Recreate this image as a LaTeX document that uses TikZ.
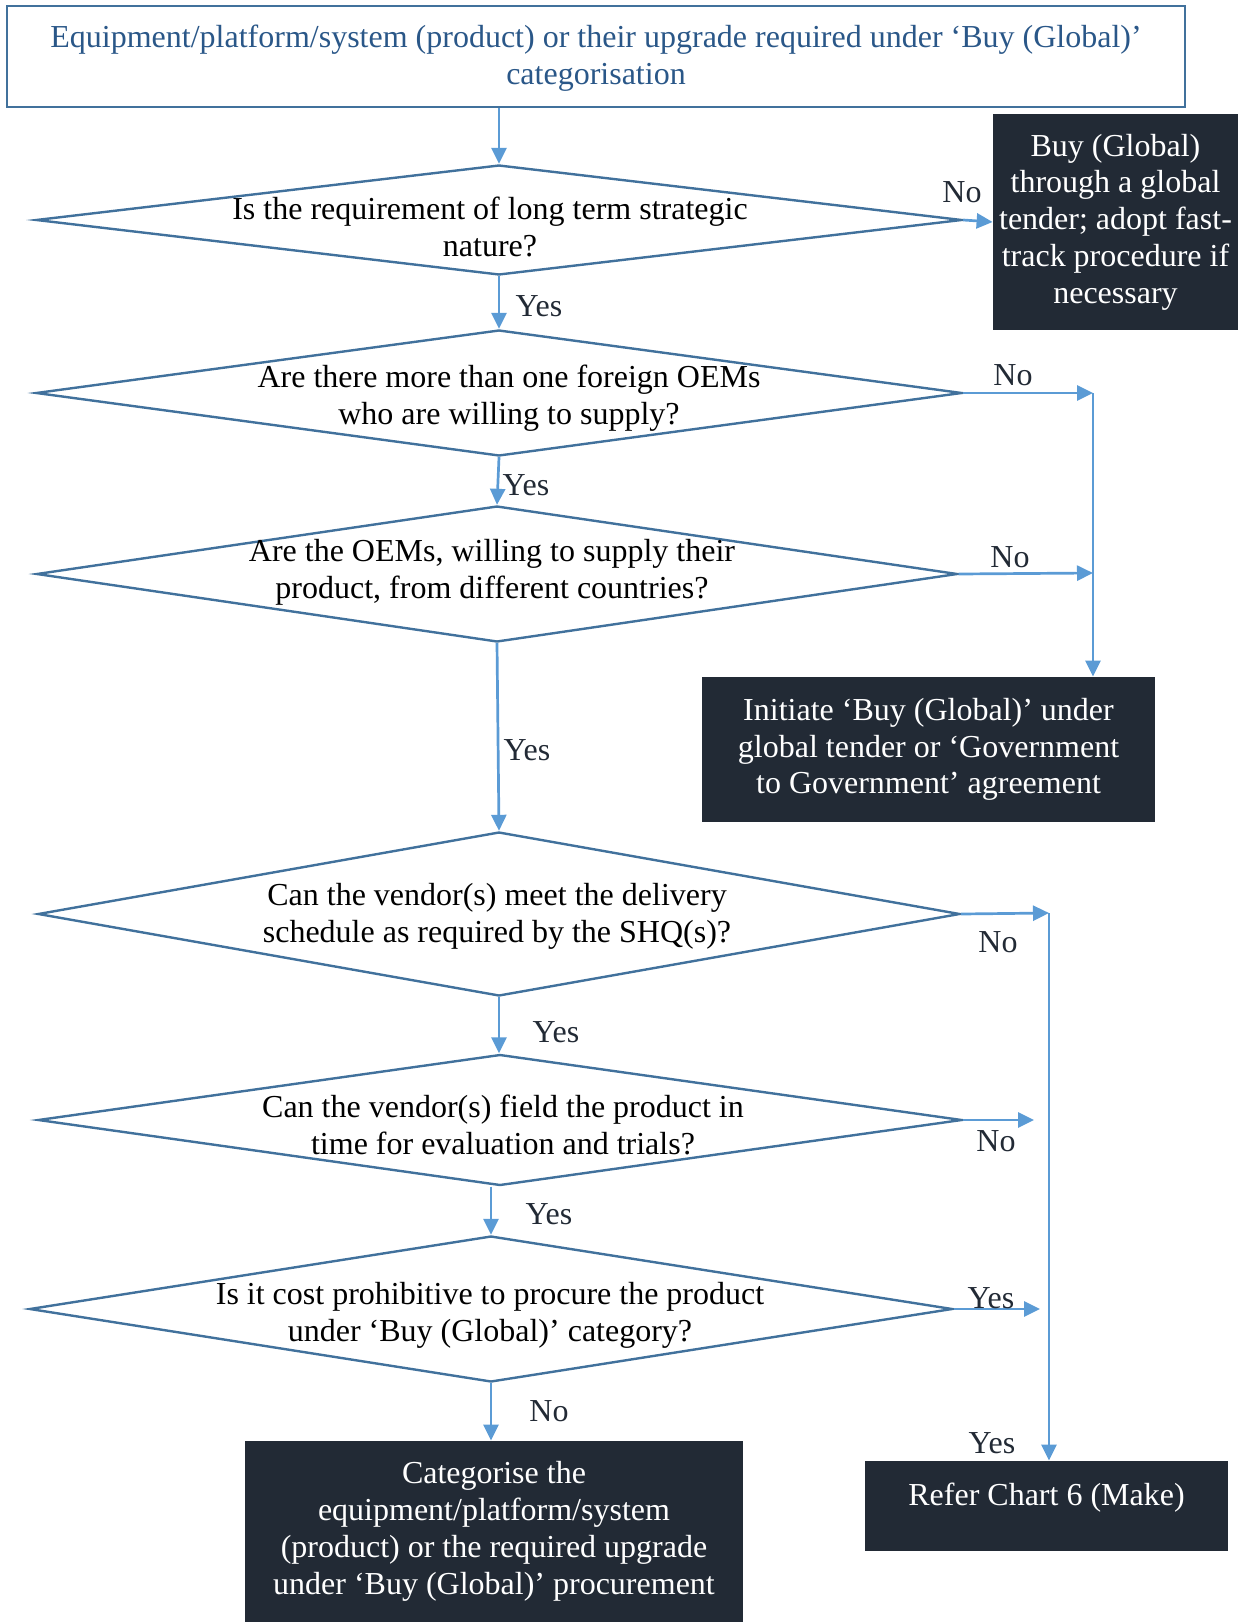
\documentclass[tikz,border=0pt]{standalone}
\usepackage{fontspec}
\setmainfont{Liberation Serif}
\usetikzlibrary{shapes.geometric,arrows.meta}
\definecolor{lineblue}{HTML}{41719C}
\definecolor{textblue}{HTML}{2A5788}
\definecolor{arrowblue}{HTML}{5B9BD5}
\definecolor{darkbox}{HTML}{222A35}

\begin{document}
\begin{tikzpicture}[x=0.5pt,y=-0.5pt,font=\fontsize{16}{18.4}\selectfont,
  decision/.style={diamond,draw=lineblue,line width=1.2pt,inner sep=0pt},
  question/.style={align=center,inner sep=0pt},
  dark/.style={fill=darkbox,text=white,align=center,inner sep=0pt},
  flow/.style={-{Triangle[length=8pt,width=7.5pt]},draw=arrowblue,line width=1.35pt},
  ans/.style={text=darkbox,inner sep=0pt}]
  \useasboundingbox (0,0) rectangle (1238,1622);

  \node [draw=lineblue,line width=1.2pt,minimum width=589pt,minimum height=50.5pt] (start) at (596,56.5) {};
  \node [question,text=textblue] (s1) at (596,58) {Equipment/platform/system (product) or their upgrade required under `Buy (Global)'\\categorisation};

  \node [decision,minimum width=463pt,minimum height=55pt] (d1) at (499,220) {};
  \node [question] (q1) at (490,227) {Is the requirement of long term strategic\\nature?};
  \node [decision,minimum width=463pt,minimum height=63pt] (d2) at (499,393) {};
  \node [question] (q2) at (509,398) {Are there more than one foreign OEMs\\who are willing to supply?};
  \node [decision,minimum width=460.5pt,minimum height=68pt] (d3) at (497,574) {};
  \node [question] (q3) at (492,572) {Are the OEMs, willing to supply their\\product, from different countries?};
  \node [decision,minimum width=461pt,minimum height=82pt] (d4) at (499,914) {};
  \node [question] (q4) at (497,916) {Can the vendor(s) meet the delivery\\schedule as required by the SHQ(s)?};
  \node [decision,minimum width=462pt,minimum height=65.5pt] (d5) at (500,1120) {};
  \node [question] (q5) at (503,1125) {Can the vendor(s) field the product in\\time for evaluation and trials?};
  \node [decision,minimum width=461.5pt,minimum height=73pt] (d6) at (491,1309) {};
  \node [question] (q6) at (490,1315) {Is it cost prohibitive to procure the product\\under `Buy (Global)' category?};

  \node [dark,minimum width=122.5pt,minimum height=108pt] (buy) at (1115.5,222) {Buy (Global)\\through a global\\tender; adopt fast-\\track procedure if\\necessary};
  \node [dark,minimum width=226.5pt,minimum height=72.5pt] (init) at (928.5,749.5) {Initiate `Buy (Global)' under\\global tender or `Government\\to Government' agreement};
  \node [dark,minimum width=249pt,minimum height=90.5pt] (cat) at (494,1531.5) {Categorise the\\equipment/platform/system\\(product) or the required upgrade\\under `Buy (Global)' procurement};
  \node [dark,minimum width=181.5pt,minimum height=45pt,text depth=12pt] (refer) at (1046.5,1506) {Refer Chart 6 (Make)};

  \coordinate (j1) at (1093,393);
  \coordinate (j2) at (1093,573);
  \coordinate (j3) at (1049,913);
  \coordinate (e5) at (1034,1120);
  \coordinate (e6) at (1040,1309);

  \draw [flow] (start.south -| d1.north) -- (d1.north);
  \draw [flow] (d1.south) -- (d2.north);
  \draw [flow] (d2.south) -- (d3.north);
  \draw [flow] (d3.south) -- (d4.north);
  \draw [flow] (d4.south) -- (d4.south |- d5.north);
  \draw [flow] (d5.south -| d6.north) -- (d6.north);
  \draw [flow] (d6.south) -- (d6.south |- cat.north);

  \draw [flow] (d1.east) -- (buy.west);
  \draw [flow] (d2.east) -- (j1);
  \draw [flow] (d3.east) -- (j2);
  \draw [flow] (j1) -- (j1 |- init.north);
  \draw [flow] (d4.east) -- (j3);
  \draw [flow] (d5.east) -- (e5);
  \draw [flow] (d6.east) -- (e6);
  \draw [flow] (j3) -- (j3 |- refer.north);

  \node [ans] (a1) at (962,192) {No};
  \node [ans] (a2) at (539,306) {Yes};
  \node [ans] (a3) at (1013,375) {No};
  \node [ans] (a4) at (526,485) {Yes};
  \node [ans] (a5) at (1010,557) {No};
  \node [ans] (a6) at (527,750) {Yes};
  \node [ans] (a7) at (998,942) {No};
  \node [ans] (a8) at (556,1032) {Yes};
  \node [ans] (a9) at (996,1141) {No};
  \node [ans] (a10) at (549,1214) {Yes};
  \node [ans] (a11) at (991,1298) {Yes};
  \node [ans] (a12) at (549,1411) {No};
  \node [ans] (a13) at (992,1443) {Yes};
\end{tikzpicture}
\end{document}
